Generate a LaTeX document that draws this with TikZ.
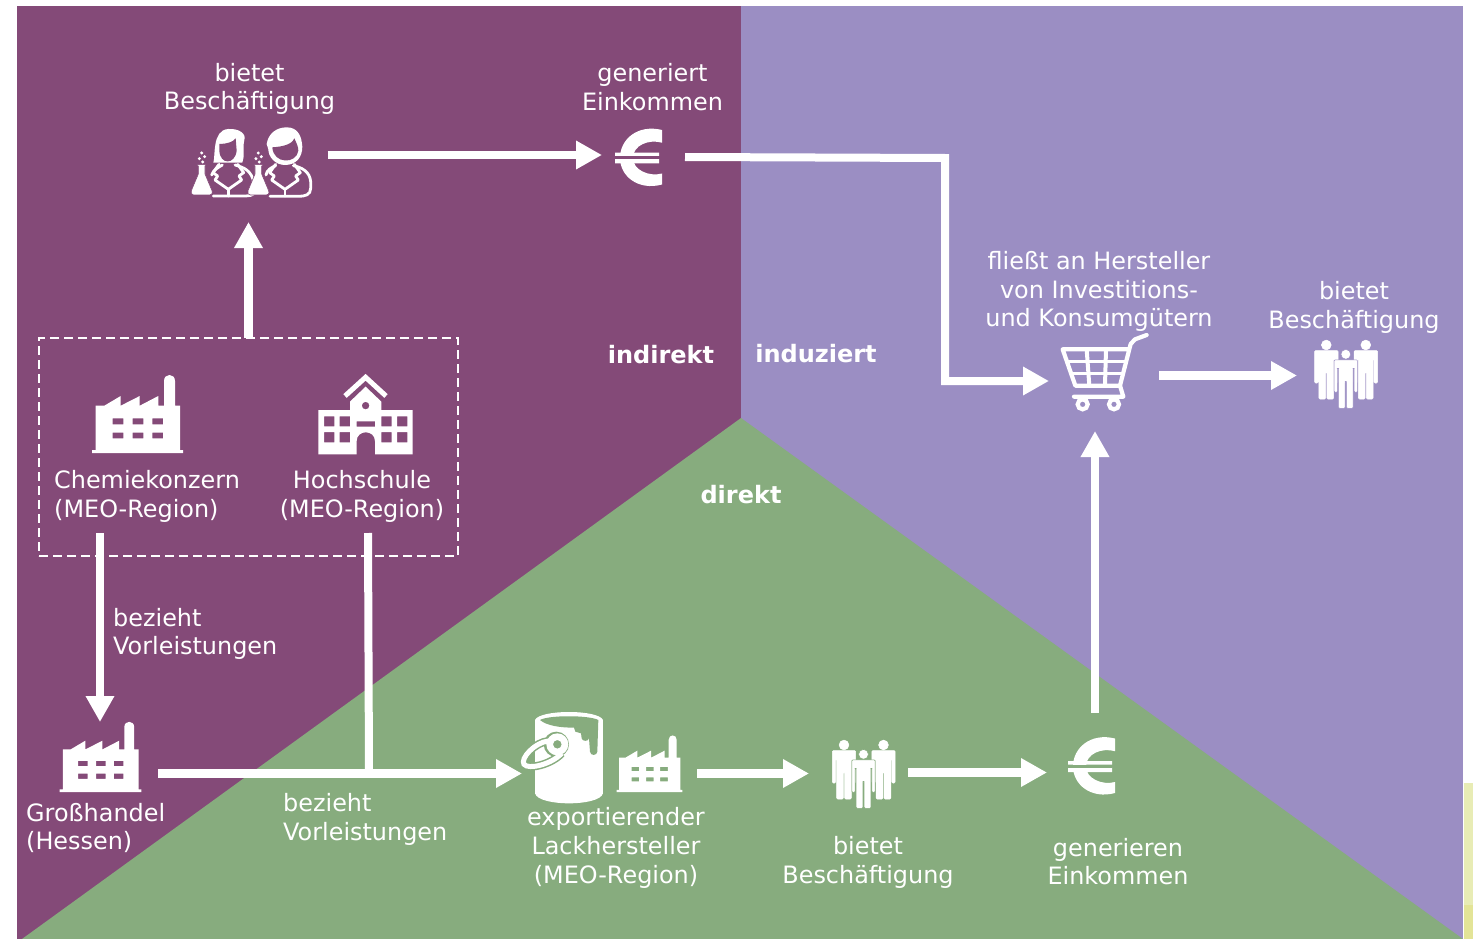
\documentclass[tikz,border=0pt]{standalone}
\usepackage{fontspec}
\setmainfont{DejaVu Sans}
\usetikzlibrary{arrows.meta}
\definecolor{plumc}{HTML}{844A78}
\definecolor{lavc}{HTML}{9B8EC3}
\definecolor{grnc}{HTML}{87AC7E}
\definecolor{stripa}{HTML}{E8ECB5}
\definecolor{stripb}{HTML}{E3E497}
\newcommand\flaskat[2]{\begin{scope}[shift={(#1,#2)}]
    \path[wht,draw=plumc,line width=.6pt] (-12,0) -- (12,0) -- (12,4) -- (10,4) -- (10,28) -- (31,78)
      .. controls (34,88) and (28,91) .. (24,91) -- (-24,91)
      .. controls (-30,91) and (-34,85) .. (-31,78) -- (-10,28) -- (-10,4) -- (-12,4) -- cycle;
    \path[wht] (0,-35) circle [radius=5] (9,-24) circle [radius=5] (-7,-18) circle [radius=5] (3,-8) circle [radius=5];
  \end{scope}}
\newcommand\coatat[2]{\begin{scope}[shift={(#1,#2)}]
    \draw[whs,line width=2.8pt] (-28,25) -- (-46,50) -- (-32,60) -- (-40,72) -- (0,100)
       -- (40,72) -- (32,60) -- (46,50) -- (28,25);
    \draw[whs,line width=2.8pt] (0,100) -- (0,120);
  \end{scope}}
\tikzset{
  x=1pt,y=-1pt,
  lbl/.style={text=white,inner sep=0pt,font=\fontsize{23.9}{28.8}\selectfont},
  lblc/.style={lbl,align=center},
  lbll/.style={lbl,align=left,anchor=west},
  zone/.style={text=white,inner sep=0pt,font=\fontsize{24}{29}\selectfont\bfseries},
  iconbox/.style={inner sep=0pt,outer sep=0pt,draw=none},
  flow/.style={draw=white,line width=8.5pt,-{Triangle[length=26pt,width=27pt]}},
  flowplain/.style={draw=white,line width=8pt},
  wht/.style={fill=white,draw=none},
  whs/.style={draw=white,line cap=round,line join=round},
  pics/factory/.style={code={
    \path[wht,even odd rule]
      (0,0) -- (91,0) -- (91,-3) -- (88,-3) -- (88,-47.3) -- (83,-47.3) -- (83,-72)
      .. controls (83,-80) and (72,-80) .. (72,-72) -- (72,-47.3) -- (66.3,-47.3) -- (66.3,-57)
      -- (47.7,-47.3) -- (47.7,-57) -- (28.7,-47.3) -- (28.7,-57) -- (12.3,-47.3)
      -- (3.7,-47.3) -- (3.7,-3) -- (0,-3) -- cycle
      (20.7,-34.7) rectangle (31.3,-28.7) (40.7,-34.7) rectangle (51.3,-28.7) (60.3,-34.7) rectangle (71,-28.7)
      (20.7,-20.3) rectangle (31.3,-14.7) (40.7,-20.3) rectangle (51.3,-14.7) (60.3,-20.3) rectangle (71,-14.7);
  }},
  pics/school/.style={code={
    \path[wht,even odd rule]
      (0,0) -- (0,-44.3) -- (31.7,-44.3) -- (31.7,-52.7) -- (47.3,-67.7) -- (63,-52.7) -- (63,-44.3)
      -- (94.3,-44.3) -- (94.3,0) -- (56.7,0) -- (56.7,-13)
      .. controls (56.7,-25) and (38.3,-25) .. (38.3,-13) -- (38.3,0) -- cycle
      (5.7,-38) rectangle (16,-28) (21.3,-38) rectangle (31.7,-28)
      (5.7,-22.3) rectangle (16,-12) (21.3,-22.3) rectangle (31.7,-12)
      (63,-38) rectangle (73.3,-28) (78.7,-38) rectangle (89,-28)
      (63,-22.3) rectangle (73.3,-12) (78.7,-22.3) rectangle (89,-12)
      (38.3,-33) rectangle (56.7,-27.7)
      (47.3,-48.7) circle [radius=3.8];
    \draw[draw=white,line width=5pt] (26.7,-58.3) -- (47.3,-77) -- (67.7,-58.3);
  }},
  pics/euro/.style={code={
    \path[wht] (21,-27) -- (21,-14.3)
      .. controls (8,-18) and (-8,-12) .. (-8,1)
      .. controls (-8,13) and (8,20) .. (21,16.5)
      -- (21,27.5)
      .. controls (-3,34) and (-21,19) .. (-21,1)
      .. controls (-21,-18) and (-3,-33) .. (21,-27) -- cycle;
    \path[wht] (-26,-4.3) rectangle (18,-1) (-26,2) rectangle (18,6.5);
    \path[fill=#1] (-26,-1) rectangle (18,2);
  }},
  personshape/.style={rounded corners=1.1pt},
  pics/crowd/.style={code={
    \foreach \px/\py/\pc in {0/0/white,39.5/0/white,19.5/9.3/#1}{
      \path[wht,draw=\pc,line width=.5pt] (\px,\py) circle [radius=4.9];
      \path[wht,draw=\pc,line width=.5pt,personshape]
       (\px-11.7,\py+5.5) -- (\px+11.7,\py+5.5) -- (\px+11.7,\py+38) -- (\px+8.3,\py+38) -- (\px+8.3,\py+14)
       -- (\px+7.4,\py+14) -- (\px+7.4,\py+54) -- (\px+.6,\py+54) -- (\px+.6,\py+27) -- (\px-.6,\py+27)
       -- (\px-.6,\py+54) -- (\px-7.4,\py+54) -- (\px-7.4,\py+14) -- (\px-8.3,\py+14) -- (\px-8.3,\py+38)
       -- (\px-11.7,\py+38) -- cycle;
    }
  }},
  pics/cart/.style={code={
    \draw[whs,line width=4.2pt] (320,45) -- (285,58) -- (272,72) -- (240,197) -- (106,197) -- (68,88) -- (265,88);
    \draw[whs,line width=3.6pt] (82,124) -- (256,124) (93,160) -- (247,160);
    \draw[whs,line width=4pt] (140,88) -- (148,197) (198,88) -- (195,197);
    \draw[whs,line width=4.2pt] (240,197) -- (250,230) -- (102,230);
    \foreach \wx in {128,222}{
      \draw[draw=white,line width=4.2pt] (\wx,253) circle [radius=15];
    }
  }},
  pics/bucket/.style={code={
    \path[wht] (60,45) -- (60,265) .. controls (70,305) and (254,305) .. (264,265) -- (264,45)
      .. controls (250,13) and (74,13) .. (60,45) -- cycle;
    \path[fill=grnc] (75,45) .. controls (100,30) and (222,30) .. (250,45) -- (247,140)
      .. controls (246,153) and (226,153) .. (225,140) -- (222,100)
      .. controls (221,110) and (201,110) .. (200,100) -- (198,85) -- (181,80) -- (177,68)
      .. controls (135,68) and (95,62) .. (75,45) -- cycle;
    \draw[draw=grnc,line width=8pt] (100,108) .. controls (60,112) and (15,160) .. (27,178)
      .. controls (40,195) and (110,178) .. (140,145);
    \path[fill=grnc] (124,118) circle [radius=38];
    \draw[draw=white,line width=5pt] (100,108) .. controls (60,112) and (15,160) .. (27,178)
      .. controls (40,195) and (110,178) .. (140,145);
    \path[wht,even odd rule] (127,118) circle [radius=33] (127,118) circle [radius=13];
  }},
  pics/scientists/.style={code={
    % woman
    \path[wht] (85,128) .. controls (92,110) and (80,30) .. (130,27)
      .. controls (160,25) and (185,40) .. (178,60)
      .. controls (172,85) and (180,110) .. (172,128) -- cycle;
    \path[fill=plumc] (103,72) .. controls (125,72) and (145,66) .. (152,55) -- (155,92)
      .. controls (150,135) and (105,135) .. (103,92) -- cycle;
    \draw[whs,line width=2.8pt] (80,165) .. controls (85,150) and (100,142) .. (112,135);
    \draw[whs,line width=2.8pt] (150,135) .. controls (175,142) and (200,150) .. (207,190) -- (208,215)
       .. controls (208,228) and (190,228) .. (170,228) -- (85,228);
    \coatat{130}{108}
    % man
    \path[wht] (245,72) .. controls (250,40) and (275,22) .. (305,22)
      .. controls (340,22) and (350,50) .. (352,80)
      .. controls (352,110) and (335,135) .. (300,135)
      .. controls (270,135) and (250,110) .. (250,88) -- cycle;
    \path[fill=plumc] (262,82) .. controls (290,80) and (320,75) .. (328,55)
      .. controls (335,70) and (340,80) .. (340,92)
      .. controls (335,133) and (265,133) .. (262,82) -- cycle;
    \draw[whs,line width=2.8pt] (243,165) .. controls (245,150) and (260,142) .. (272,137);
    \draw[whs,line width=2.8pt] (325,137) .. controls (350,142) and (375,155) .. (377,185) -- (377,205)
       .. controls (377,225) and (360,229) .. (340,229) -- (255,229);
    \coatat{300}{108}
    \flaskat{50}{134}
    \flaskat{220}{134}
  }}
}
\begin{document}
\begin{tikzpicture}
\path[use as bounding box,fill=white] (0,0) rectangle (1473,939);
% zones
\fill[stripa] (1464,783) rectangle (1473,939);
\fill[stripb] (1464,905) rectangle (1473,939);
\fill[plumc] (17,6) rectangle (741.5,939);
\fill[lavc] (741,6) rectangle (1463,939);
\fill[grnc] (741,418) -- (1463,939) -- (22,939) -- cycle;

% layout boxes of the icons
\node[iconbox,minimum width=158pt,minimum height=134pt] (scientists) at (248.5,155) {};
\node[iconbox,minimum width=83pt,minimum height=40pt] (euroA) at (643.5,155) {};
\node[iconbox,minimum width=110pt,minimum height=106pt] (cart) at (1104,378) {};
\node[iconbox,minimum width=100pt,minimum height=60pt] (crowdB) at (1347,375.5) {};
\node[iconbox,minimum width=116pt,minimum height=103pt] (wholesale) at (100,773.5) {};
\node[iconbox,minimum width=175pt,minimum height=80pt] (paint) at (609.5,773.5) {};
\node[iconbox,minimum width=99pt,minimum height=60pt] (crowdA) at (858.5,773.5) {};
\node[iconbox,minimum width=96pt,minimum height=121pt] (euroB) at (1095,773.5) {};
\node[draw=white,dashed,dash pattern=on 9pt off 5pt,line width=2.4pt,inner sep=0pt,outer sep=0pt,
      minimum width=419pt,minimum height=218pt] (cluster) at (248.5,447) {};
\coordinate (chemOut) at (100,533);
\coordinate (hsOut) at (368,533);
\coordinate (hsJoin) at (369,773);
\coordinate (elbowA) at (945,158);
\coordinate (elbowB) at (945,381);

% icons
\pic[scale=.3333] at (185,120) {scientists};
\pic at (641,157) {euro=plumc};
\pic at (92,453) {factory};
\pic at (318.3,454.3) {school};
\pic at (1326.3,345) {crowd=lavc};
\pic[scale=.3333] at (1040,320) {cart};
\pic[scale=.9] at (59.5,792) {factory};
\pic[scale=.3333] at (515,705) {bucket};
\pic[scale=.725] at (616.5,792) {factory};
\pic at (844,745) {crowd=grnc};
\pic at (1094,765.5) {euro=grnc};

% connectors
\draw[flow] (scientists.east) -- (euroA.west);
\draw[flow] (cluster.north) -- (scientists.south);
\draw[draw=white,line width=8pt,-{Triangle[length=26pt,width=27pt]}]
  ([yshift=-2pt]euroA.east) -- (elbowA) -- (elbowB) -- ([yshift=-3pt]cart.west);
\draw[flow] ([yshift=2.5pt]cart.east) -- (crowdB.west);
\draw[flow] (euroB.north) -- ([xshift=-9pt]cart.south);
\draw[flow] ([yshift=1pt]crowdA.east) -- ([yshift=1pt]euroB.west);
\draw[flow] (paint.east) -- (crowdA.west);
\draw[flow] (wholesale.east) -- (paint.west);
\draw[flowplain] (hsOut) -- (hsJoin);
\draw[flow] (chemOut) -- (wholesale.north);

% labels
\node[lblc] (tA) at (249.5,89) {bietet\\Beschäftigung};
\node[lblc] (tB) at (652.5,87) {generiert\\Einkommen};
\node[lblc] (tC) at (1099,291.5) {fließt an Hersteller\\von Investitions-\\und Konsumgütern};
\node[lblc] (tD) at (1354,307.5) {bietet\\Beschäftigung};
\node[zone] (zA) at (661,355) {indirekt};
\node[zone] (zB) at (816,354) {induziert};
\node[zone] (zC) at (741,495) {direkt};
\node[lbll] (tE) at (54,496.5) {Chemiekonzern\\(MEO-Region)};
\node[lblc] (tF) at (362,496.5) {Hochschule\\(MEO-Region)};
\node[lbll] (tG) at (113,634) {bezieht\\Vorleistungen};
\node[lbll] (tH) at (26,828) {Großhandel\\(Hessen)};
\node[lbll] (tI) at (283,819) {bezieht\\Vorleistungen};
\node[lblc] (tJ) at (616,848) {exportierender\\Lackhersteller\\(MEO-Region)};
\node[lblc] (tK) at (868,862.5) {bietet\\Beschäftigung};
\node[lblc] (tL) at (1118,861.5) {generieren\\Einkommen};
\end{tikzpicture}
\end{document}
